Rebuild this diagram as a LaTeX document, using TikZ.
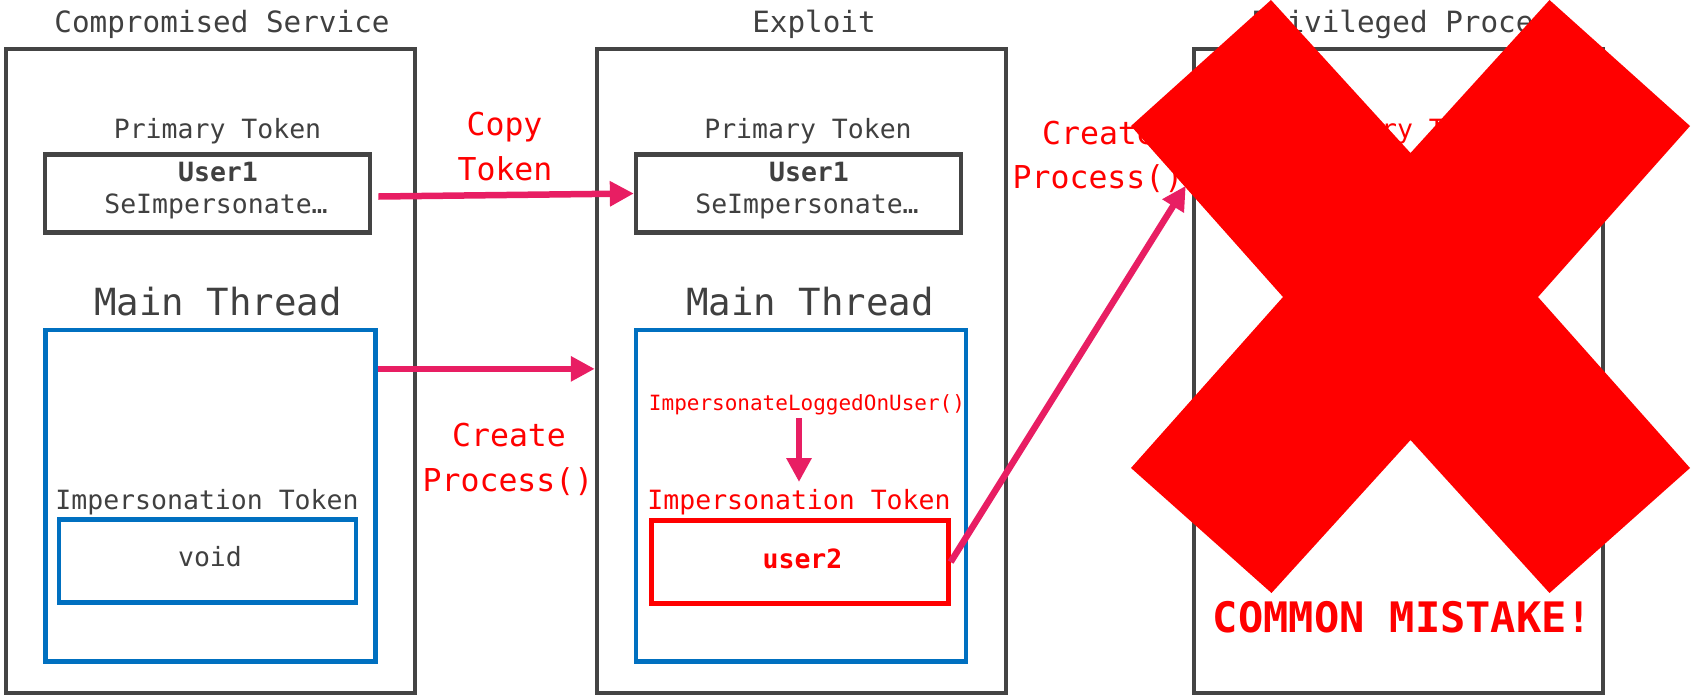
\documentclass[tikz,border=0pt]{standalone}
\usepackage{fontspec}
\setmonofont{DejaVu Sans Mono}
\usetikzlibrary{arrows.meta}

\definecolor{boxgray}{RGB}{68,68,68}
\definecolor{txtgray}{RGB}{64,64,64}
\definecolor{thrblue}{RGB}{0,112,192}
\definecolor{flowpink}{RGB}{232,30,99}
\definecolor{alarm}{RGB}{255,0,0}

\newcommand{\fsz}[1]{\ttfamily\fontsize{#1}{1.2\dimexpr#1pt\relax}\selectfont}

\begin{document}
\begin{tikzpicture}[x=1pt, y=-1pt,
  outer/.style={draw=boxgray, line width=4.5pt, minimum width=409pt, minimum height=644pt},
  tokbox/.style={draw=boxgray, line width=4.3pt, minimum width=325pt, minimum height=78pt},
  thread/.style={draw=thrblue, line width=4.3pt, minimum width=330pt, minimum height=331.5pt},
  imptok/.style={line width=4.3pt, minimum width=297pt, minimum height=83pt},
  flow/.style={draw=flowpink, line width=6.5pt, -{Triangle[length=24pt,width=24pt]}},
  title/.style={anchor=base, text=txtgray, font=\fsz{29.3}},
  lbl/.style={anchor=base, text=txtgray, font=\fsz{26.5}},
  thrlbl/.style={anchor=base, text=txtgray, font=\fsz{37.4}},
  call/.style={anchor=base, text=alarm, font=\fsz{31.5}}]
\useasboundingbox (0,0) rectangle (1691,697);

% Compromised Service
\node[title] (svctitle) at (222,32) {Compromised Service};
\node[outer] (svc) at (210.5,371) {};
\node[lbl] (svcprimlbl) at (217.5,138.5) {Primary Token};
\node[tokbox] (svcprim) at (207.75,193.5) {};
\node[lbl, font=\fsz{26.5}\bfseries] (svcuser) at (218,181.7) {User1};
\node[lbl] (svcpriv) at (216,213.3) {SeImpersonate…};
\node[thrlbl] (svcthrlbl) at (218,315) {Main Thread};
\node[thread] (svcthr) at (210.5,495.75) {};
\node[lbl] (svcimplbl) at (207,509) {Impersonation Token};
\node[imptok, draw=thrblue] (svcimp) at (207.75,561) {};
\node[lbl] (svcvoid) at (210,566.7) {void};

% Exploit
\node[title] (expltitle) at (814,32) {Exploit};
\node[outer] (expl) at (801.5,371) {};
\node[lbl] (explprimlbl) at (808,138.5) {Primary Token};
\node[tokbox] (explprim) at (798.5,193.5) {};
\node[lbl, font=\fsz{26.5}\bfseries] (expluser) at (809,181.7) {User1};
\node[lbl] (explpriv) at (807,213.3) {SeImpersonate…};
\node[thrlbl] (explthrlbl) at (810,315) {Main Thread};
\node[thread] (explthr) at (801,495.75) {};
\node[anchor=base, text=alarm, font=\fsz{21}] (ilou) at (807,410) {ImpersonateLoggedOnUser()};
\node[lbl, text=alarm] (explimplbl) at (799,509) {Impersonation Token};
\node[imptok, draw=alarm] (explimp) at (800,562) {};
\node[lbl, text=alarm, font=\fsz{26.5}\bfseries] (expluser2) at (802.5,568.3) {user2};

% Privileged Process
\node[title] (privtitle) at (1410,32) {Privileged Process};
\node[outer] (priv) at (1398.5,371) {};
\node[lbl, text=alarm] (privprimlbl) at (1405,138.5) {Primary Token};

% steps between the processes
\node[call] (copy1) at (504.5,135) {Copy};
\node[call] (copy2) at (505,180) {Token};
\node[call] (cp1) at (509,446) {Create};
\node[call] (cp2) at (508,491) {Process()};
\node[call] (cpb1) at (1099,144) {Create};
\node[call] (cpb2) at (1098,188.3) {Process()};

\draw[flow] ([shift={(6pt,-3pt)}]svcprim.east) -- (explprim.west);
\draw[flow] ([yshift=-41pt]svcthr.north east) -- ([yshift=-41pt]svcthr.north east -| expl.west);
\coordinate (dn) at ([yshift=27pt]explimplbl.base);
\draw[flow] (dn |- ilou.south) -- (dn);
\coordinate (ptgt) at ([shift={(-6pt,-139pt)}]priv.north west);
\draw[flow] (explimp.east) -- (ptgt);

% big cross
\fill[alarm] (1271,0) -- (1410.5,153) -- (1549.5,0) -- (1690,126) -- (1538,297)
  -- (1690,468) -- (1549.5,593) -- (1410.5,440) -- (1271.5,593) -- (1131,468)
  -- (1283,297) -- (1131,126) -- cycle;
\node[anchor=base, text=alarm, font=\fsz{42}\bfseries] (mistake) at (1402.5,632.7) {COMMON MISTAKE!};
\end{tikzpicture}
\end{document}
